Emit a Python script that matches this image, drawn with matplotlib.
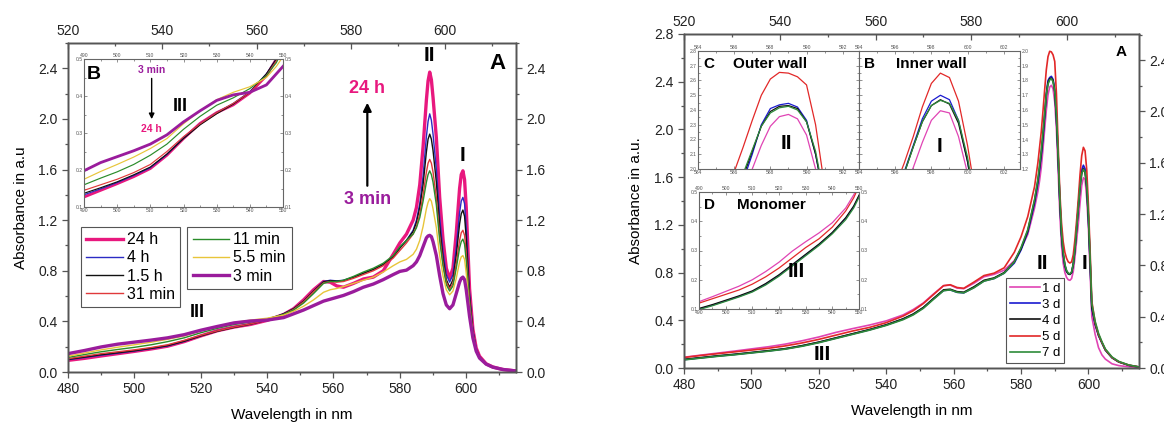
import numpy as np
import matplotlib
matplotlib.use("Agg")
import matplotlib.pyplot as plt
from matplotlib.ticker import MultipleLocator

plt.rcParams['font.family'] = ['Liberation Sans', 'DejaVu Sans']

W, H = 1164, 422

# ---------------- left panel data (time series) ----------------
WL_A = [480, 485, 490, 495, 500, 505, 510, 515, 520, 525, 530, 535, 540,
        545, 548, 551, 554, 557, 559, 561, 563, 566, 569, 572, 575, 578,
        580, 582, 584, 585, 586, 587, 588, 588.5, 589, 589.5, 590,
        591, 592, 593, 594, 595, 596, 597, 598,
        598.5, 599, 599.5, 600,
        601, 602, 603, 604, 606, 608, 611, 615]

T_24H = [0.092, 0.108, 0.127, 0.145, 0.163, 0.182, 0.204, 0.240, 0.285, 0.326, 0.355, 0.376, 0.408,
         0.455, 0.50, 0.57, 0.65, 0.715, 0.71, 0.68, 0.67, 0.70, 0.735, 0.75, 0.80, 0.93,
         1.02, 1.09, 1.20, 1.30, 1.48, 1.78, 2.15, 2.30, 2.37, 2.31, 2.17,
         1.85, 1.38, 1.05, 0.82, 0.74, 0.82, 1.10, 1.45,
         1.56, 1.59, 1.52, 1.30,
         0.66, 0.34, 0.19, 0.125, 0.065, 0.04, 0.02, 0.008]
T_4H = [0.097, 0.115, 0.133, 0.149, 0.166, 0.185, 0.206, 0.242, 0.287, 0.325, 0.355, 0.38, 0.412,
        0.46, 0.50, 0.56, 0.64, 0.715, 0.725, 0.72, 0.725, 0.75, 0.78, 0.81, 0.85, 0.91,
        0.98, 1.04, 1.12, 1.20, 1.33, 1.55, 1.86, 1.98, 2.04, 1.99, 1.88,
        1.60, 1.22, 0.95, 0.77, 0.71, 0.77, 0.98, 1.26,
        1.35, 1.38, 1.33, 1.14,
        0.62, 0.33, 0.185, 0.12, 0.062, 0.038, 0.02, 0.008]
T_1_5H = [0.10, 0.118, 0.137, 0.152, 0.168, 0.187, 0.208, 0.243, 0.285, 0.322, 0.352, 0.378, 0.41,
          0.46, 0.50, 0.56, 0.64, 0.712, 0.722, 0.718, 0.722, 0.748, 0.78, 0.81, 0.85, 0.91,
          0.98, 1.04, 1.11, 1.18, 1.30, 1.48, 1.74, 1.84, 1.88, 1.84, 1.75,
          1.50, 1.15, 0.90, 0.73, 0.67, 0.73, 0.92, 1.17,
          1.25, 1.28, 1.23, 1.06,
          0.60, 0.325, 0.18, 0.12, 0.062, 0.038, 0.02, 0.008]
T_31M = [0.105, 0.125, 0.145, 0.16, 0.175, 0.193, 0.215, 0.25, 0.29, 0.325, 0.355, 0.38, 0.41,
         0.455, 0.495, 0.555, 0.635, 0.705, 0.715, 0.71, 0.715, 0.74, 0.77, 0.80, 0.84, 0.90,
         0.96, 1.02, 1.09, 1.15, 1.25, 1.40, 1.58, 1.65, 1.68, 1.65, 1.58,
         1.38, 1.08, 0.86, 0.71, 0.655, 0.70, 0.86, 1.04,
         1.10, 1.12, 1.08, 0.94,
         0.56, 0.31, 0.18, 0.12, 0.062, 0.038, 0.02, 0.008]
T_11M = [0.115, 0.138, 0.16, 0.178, 0.195, 0.215, 0.24, 0.27, 0.31, 0.345, 0.375, 0.395, 0.42,
         0.455, 0.49, 0.545, 0.62, 0.70, 0.715, 0.715, 0.725, 0.755, 0.79, 0.82, 0.86, 0.92,
         0.99, 1.04, 1.09, 1.14, 1.22, 1.35, 1.50, 1.56, 1.59, 1.56, 1.50,
         1.32, 1.04, 0.84, 0.69, 0.64, 0.68, 0.82, 0.98,
         1.03, 1.05, 1.01, 0.88,
         0.54, 0.30, 0.175, 0.115, 0.062, 0.038, 0.02, 0.008]
T_5_5M = [0.125, 0.15, 0.175, 0.196, 0.215, 0.235, 0.258, 0.285, 0.325, 0.36, 0.39, 0.41, 0.425,
          0.45, 0.48, 0.52, 0.57, 0.63, 0.65, 0.66, 0.675, 0.70, 0.725, 0.75, 0.79, 0.84,
          0.87, 0.89, 0.93, 0.97, 1.04, 1.15, 1.29, 1.34, 1.37, 1.35, 1.29,
          1.14, 0.92, 0.76, 0.65, 0.61, 0.64, 0.74, 0.87,
          0.91, 0.92, 0.89, 0.78,
          0.50, 0.29, 0.17, 0.11, 0.062, 0.038, 0.02, 0.008]
T_3M = [0.145, 0.17, 0.198, 0.22, 0.236, 0.252, 0.27, 0.295, 0.33, 0.36, 0.388, 0.403, 0.41,
        0.43, 0.46, 0.49, 0.525, 0.56, 0.575, 0.59, 0.605, 0.635, 0.67, 0.695, 0.73, 0.77,
        0.795, 0.805, 0.84, 0.87, 0.92, 0.99, 1.06, 1.075, 1.08, 1.07, 1.03,
        0.92, 0.76, 0.62, 0.53, 0.50, 0.53, 0.62, 0.71,
        0.74, 0.75, 0.73, 0.65,
        0.44, 0.27, 0.165, 0.11, 0.062, 0.038, 0.02, 0.008]

TIME_LABELS = ["24 h", "4 h", "1.5 h", "31 min", "11 min", "5.5 min", "3 min"]
TIME_SERIES = [T_24H, T_4H, T_1_5H, T_31M, T_11M, T_5_5M, T_3M]
TIME_COLORS = ["#e8187e", "#2b2bc4", "#111111", "#e0393b", "#2a8c2a", "#e8c53a", "#9a1c9c"]
TIME_WIDTHS = [2.4, 1.0, 1.0, 1.0, 1.0, 1.0, 2.4]

# ---------------- right panel data (day series) ----------------
WL_B = [480, 485, 490, 495, 500, 505, 510, 515, 520, 525, 530, 535, 540,
        545, 548, 551, 554, 557, 559, 561, 563, 566, 569, 572, 575, 578, 580, 582, 584,
        585, 585.5, 586, 586.5, 587, 587.5, 588, 588.5, 589, 589.5, 590, 590.5, 591, 591.5,
        592, 592.5, 593, 593.5, 594, 594.5, 595, 595.5, 596, 596.5, 597, 597.5, 598, 598.5,
        599, 599.5, 600, 600.5, 601,
        602, 603, 604, 605, 607, 609, 612, 615]

D_1 = [0.09, 0.108, 0.125, 0.142, 0.16, 0.178, 0.20, 0.228, 0.26, 0.298, 0.33, 0.36, 0.395,
       0.445, 0.49, 0.545, 0.62, 0.69, 0.695, 0.67, 0.665, 0.71, 0.765, 0.785, 0.82, 0.90, 1.00, 1.12, 1.34,
       1.48, 1.57, 1.68, 1.83, 2.00, 2.16, 2.29, 2.355, 2.37, 2.34, 2.23, 2.00, 1.66, 1.30,
       1.03, 0.88, 0.80, 0.76, 0.74, 0.735, 0.75, 0.81, 0.93, 1.07, 1.21, 1.38, 1.53, 1.595,
       1.58, 1.42, 1.17, 0.80, 0.43,
       0.28, 0.17, 0.11, 0.075, 0.035, 0.02, 0.01, 0.004]
D_3 = [0.07, 0.085, 0.10, 0.113, 0.128, 0.143, 0.16, 0.185, 0.215, 0.25, 0.285, 0.32, 0.36,
       0.41, 0.45, 0.505, 0.58, 0.65, 0.655, 0.635, 0.63, 0.675, 0.73, 0.75, 0.795, 0.88, 0.99, 1.14, 1.38,
       1.55, 1.66, 1.78, 1.92, 2.10, 2.30, 2.41, 2.435, 2.445, 2.42, 2.33, 2.10, 1.78, 1.40,
       1.12, 0.95, 0.86, 0.81, 0.79, 0.785, 0.80, 0.87, 1.00, 1.18, 1.36, 1.54, 1.66, 1.70,
       1.67, 1.53, 1.25, 0.88, 0.50,
       0.36, 0.27, 0.21, 0.15, 0.085, 0.05, 0.022, 0.008]
D_4 = [0.072, 0.087, 0.102, 0.115, 0.13, 0.145, 0.162, 0.187, 0.217, 0.252, 0.287, 0.322, 0.362,
       0.412, 0.452, 0.507, 0.582, 0.655, 0.66, 0.64, 0.635, 0.68, 0.735, 0.755, 0.80, 0.89, 1.00, 1.15, 1.40,
       1.57, 1.68, 1.80, 1.95, 2.12, 2.29, 2.39, 2.425, 2.43, 2.41, 2.32, 2.10, 1.78, 1.41,
       1.13, 0.96, 0.86, 0.81, 0.79, 0.785, 0.80, 0.87, 1.00, 1.17, 1.35, 1.52, 1.63, 1.67,
       1.64, 1.51, 1.25, 0.89, 0.51,
       0.37, 0.275, 0.212, 0.152, 0.087, 0.051, 0.023, 0.008]
D_5 = [0.088, 0.105, 0.12, 0.135, 0.15, 0.165, 0.185, 0.21, 0.24, 0.275, 0.31, 0.34, 0.38,
       0.435, 0.48, 0.54, 0.615, 0.69, 0.698, 0.675, 0.668, 0.72, 0.775, 0.795, 0.84, 0.97, 1.10, 1.27, 1.52,
       1.72, 1.85, 1.98, 2.15, 2.33, 2.50, 2.61, 2.655, 2.65, 2.625, 2.57, 2.30, 1.88, 1.48,
       1.22, 1.06, 0.97, 0.92, 0.89, 0.88, 0.89, 0.95, 1.08, 1.24, 1.42, 1.62, 1.78, 1.85,
       1.82, 1.66, 1.36, 0.98, 0.56,
       0.38, 0.28, 0.215, 0.155, 0.088, 0.052, 0.024, 0.009]
D_7 = [0.068, 0.083, 0.098, 0.111, 0.126, 0.141, 0.158, 0.182, 0.212, 0.247, 0.282, 0.317, 0.357,
       0.405, 0.445, 0.50, 0.575, 0.648, 0.655, 0.635, 0.63, 0.672, 0.728, 0.75, 0.795, 0.89, 1.01, 1.16, 1.41,
       1.58, 1.70, 1.82, 1.97, 2.13, 2.29, 2.38, 2.415, 2.425, 2.40, 2.32, 2.12, 1.80, 1.43,
       1.14, 0.97, 0.87, 0.82, 0.795, 0.79, 0.805, 0.87, 1.00, 1.17, 1.35, 1.52, 1.63, 1.665,
       1.645, 1.53, 1.28, 0.92, 0.54,
       0.39, 0.29, 0.22, 0.16, 0.092, 0.055, 0.025, 0.009]

DAY_LABELS = ["1 d", "3 d", "4 d", "5 d", "7 d"]
DAY_SERIES = [D_1, D_3, D_4, D_5, D_7]
DAY_COLORS = ["#e044b4", "#1a1ad0", "#111111", "#e22828", "#2e8b3a"]

SPINE = "#555555"


def fig_box(x0, y0, x1, y1):
    """pixel box (top-left origin) -> figure fraction rect"""
    return [x0 / W, 1 - y1 / H, (x1 - x0) / W, (y1 - y0) / H]


def style_main(ax):
    for s in ax.spines.values():
        s.set_color(SPINE)
        s.set_linewidth(1.0)
    ax.tick_params(which='both', direction='out', colors=SPINE, labelcolor='#222222',
                   labelsize=10, width=0.9)
    ax.tick_params(which='major', length=4)
    ax.tick_params(which='minor', length=2.5)


def add_twins(ax, right_top):
    top = ax.twiny()
    top.set_xlim(520, 615)
    top.xaxis.set_major_locator(MultipleLocator(20))
    top.xaxis.set_minor_locator(MultipleLocator(10))
    style_main(top)
    top.tick_params(axis='x', which='both', direction='in')
    right = ax.twinx()
    right.set_ylim(0, right_top)
    right.yaxis.set_major_locator(MultipleLocator(0.4))
    right.yaxis.set_minor_locator(MultipleLocator(0.2))
    right.yaxis.set_major_formatter(plt.FormatStrFormatter('%.1f'))
    style_main(right)


def style_inset(ax, xmaj, ymaj, left=True, right=True):
    for s in ax.spines.values():
        s.set_color("#666666")
        s.set_linewidth(0.8)
    ax.xaxis.set_major_locator(MultipleLocator(xmaj))
    ax.xaxis.set_minor_locator(MultipleLocator(xmaj / 2))
    ax.yaxis.set_major_locator(MultipleLocator(ymaj))
    ax.yaxis.set_minor_locator(MultipleLocator(ymaj / 2))
    ax.tick_params(which='both', direction='in', top=True, right=True, labeltop=True,
                   labelleft=left, labelright=right, labelsize=3.6, colors='#666666',
                   labelcolor='#555555', pad=1, width=0.5)
    ax.tick_params(which='major', length=2.2)
    ax.tick_params(which='minor', length=1.2)


fig = plt.figure(figsize=(W / 100, H / 100), dpi=100)

# ===================== left panel =====================
axL = fig.add_axes(fig_box(68, 43, 516, 372))
handles = []
for lab, ys, col, lw in zip(TIME_LABELS, TIME_SERIES, TIME_COLORS, TIME_WIDTHS):
    h, = axL.plot(WL_A, ys, color=col, lw=lw, label=lab)
    handles.append(h)
axL.set_xlim(480, 615)
axL.set_ylim(0, 2.6)
axL.xaxis.set_major_locator(MultipleLocator(20))
axL.xaxis.set_minor_locator(MultipleLocator(10))
axL.yaxis.set_major_locator(MultipleLocator(0.4))
axL.yaxis.set_minor_locator(MultipleLocator(0.2))
axL.yaxis.set_major_formatter(plt.FormatStrFormatter('%.1f'))
style_main(axL)
axL.set_xlabel("Wavelength in nm", fontsize=11, labelpad=8)
axL.set_ylabel("Absorbance in a.u", fontsize=11, labelpad=7)

leg_kw = dict(fontsize=11.5, frameon=True, fancybox=False, edgecolor='#555555',
              framealpha=1, borderpad=0.35, labelspacing=0.2, handlelength=2.3,
              handletextpad=0.25, borderaxespad=0)
leg1 = axL.legend(handles=handles[:4], loc='upper left', bbox_to_anchor=(0.028, 0.442), **leg_kw)
leg1.get_frame().set_linewidth(0.8)
axL.add_artist(leg1)
leg2 = axL.legend(handles=handles[4:], loc='upper left', bbox_to_anchor=(0.266, 0.442), **leg_kw)
leg2.get_frame().set_linewidth(0.8)

axL.text(589, 2.5, "II", ha='center', va='center', fontsize=15, fontweight='bold')
axL.text(599, 1.71, "I", ha='center', va='center', fontsize=15, fontweight='bold')
axL.text(609.3, 2.44, "A", ha='center', va='center', fontsize=16, fontweight='bold')
axL.text(519, 0.47, "III", ha='center', va='center', fontsize=13, fontweight='bold')
axL.text(570.2, 2.24, "24 h", ha='center', va='center', fontsize=13, fontweight='bold',
         color=TIME_COLORS[0])
axL.text(570.2, 1.36, "3 min", ha='center', va='center', fontsize=13, fontweight='bold',
         color=TIME_COLORS[6])
axL.annotate('', xy=(570.2, 2.15), xytext=(570.2, 1.45),
             arrowprops=dict(arrowstyle='-|>', color='black', lw=1.6, mutation_scale=12))
add_twins(axL, 2.6)

# inset B (left)
axB = fig.add_axes(fig_box(84, 59, 283, 207))
for ys, col, lw in zip(TIME_SERIES, TIME_COLORS, TIME_WIDTHS):
    axB.plot(WL_A, ys, color=col, lw=lw * 0.85)
axB.set_xlim(490, 550)
axB.set_ylim(0.1, 0.5)
style_inset(axB, 10, 0.1)
axB.text(492.8, 0.457, "B", ha='center', va='center', fontsize=14, fontweight='bold')
axB.text(510.4, 0.471, "3 min", ha='center', va='center', fontsize=7.5, fontweight='bold',
         color=TIME_COLORS[6])
axB.text(510.4, 0.31, "24 h", ha='center', va='center', fontsize=7.5, fontweight='bold',
         color=TIME_COLORS[0])
axB.text(519, 0.371, "III", ha='center', va='center', fontsize=13, fontweight='bold')
axB.annotate('', xy=(510.4, 0.33), xytext=(510.4, 0.455),
             arrowprops=dict(arrowstyle='-|>', color='black', lw=1.0, mutation_scale=8))

# ===================== right panel =====================
axR = fig.add_axes(fig_box(684, 34, 1139, 368))
hR = []
for lab, ys, col in zip(DAY_LABELS, DAY_SERIES, DAY_COLORS):
    h, = axR.plot(WL_B, ys, color=col, lw=1.2, label=lab)
    hR.append(h)
axR.set_xlim(480, 615)
axR.set_ylim(0, 2.8)
axR.xaxis.set_major_locator(MultipleLocator(20))
axR.xaxis.set_minor_locator(MultipleLocator(10))
axR.yaxis.set_major_locator(MultipleLocator(0.4))
axR.yaxis.set_minor_locator(MultipleLocator(0.2))
axR.yaxis.set_major_formatter(plt.FormatStrFormatter('%.1f'))
style_main(axR)
axR.set_xlabel("Wavelength in nm", fontsize=11, labelpad=8)
axR.set_ylabel("Absorbance in a.u.", fontsize=11, labelpad=8)
legR = axR.legend(handles=hR, loc='lower left', bbox_to_anchor=(0.707, 0.014), fontsize=9.5,
                  frameon=True, fancybox=False, edgecolor='#555555', framealpha=1,
                  borderpad=0.3, labelspacing=0.3, handlelength=2.3, handletextpad=0.15,
                  borderaxespad=0)
legR.get_frame().set_linewidth(0.8)
axR.text(609.8, 2.65, "A", ha='center', va='center', fontsize=11, fontweight='bold')
axR.text(586.3, 0.877, "II", ha='center', va='center', fontsize=15, fontweight='bold')
axR.text(598.7, 0.877, "I", ha='center', va='center', fontsize=15, fontweight='bold')
axR.text(521, 0.117, "III", ha='center', va='center', fontsize=15, fontweight='bold')
add_twins(axR, 2.604)

# insets C, B, D (right)
insets = [
    (fig_box(698, 51, 859, 169), (584, 592.9), (2.0, 2.8), 2, 0.1, True, False,
     "C", "Outer wall", "II", (0.55, 0.22)),
    (fig_box(859, 51, 1020, 169), (594, 602.9), (1.2, 2.0), 2, 0.1, False, True,
     "B", "Inner wall", "I", (0.503, 0.19)),
    (fig_box(699, 192, 859, 309), (490, 550), (0.1, 0.5), 10, 0.1, True, True,
     "D", "Monomer", "III", (0.61, 0.318)),
]
for rect, xl, yl, xm, ym, lft, rgt, letter, title, roman, rpos in insets:
    ai = fig.add_axes(rect)
    for ys, col in zip(DAY_SERIES, DAY_COLORS):
        ai.plot(WL_B, ys, color=col, lw=0.9)
    ai.set_xlim(*xl)
    ai.set_ylim(*yl)
    style_inset(ai, xm, ym, left=lft, right=rgt)
    ai.text(0.068, 0.892, letter, transform=ai.transAxes, ha='center', va='center',
            fontsize=11, fontweight='bold')
    ai.text(0.45, 0.892, title, transform=ai.transAxes, ha='center', va='center',
            fontsize=11, fontweight='bold')
    ai.text(rpos[0], rpos[1], roman, transform=ai.transAxes, ha='center', va='center',
            fontsize=15, fontweight='bold')

fig.savefig("out.png", dpi=100, facecolor='white')
